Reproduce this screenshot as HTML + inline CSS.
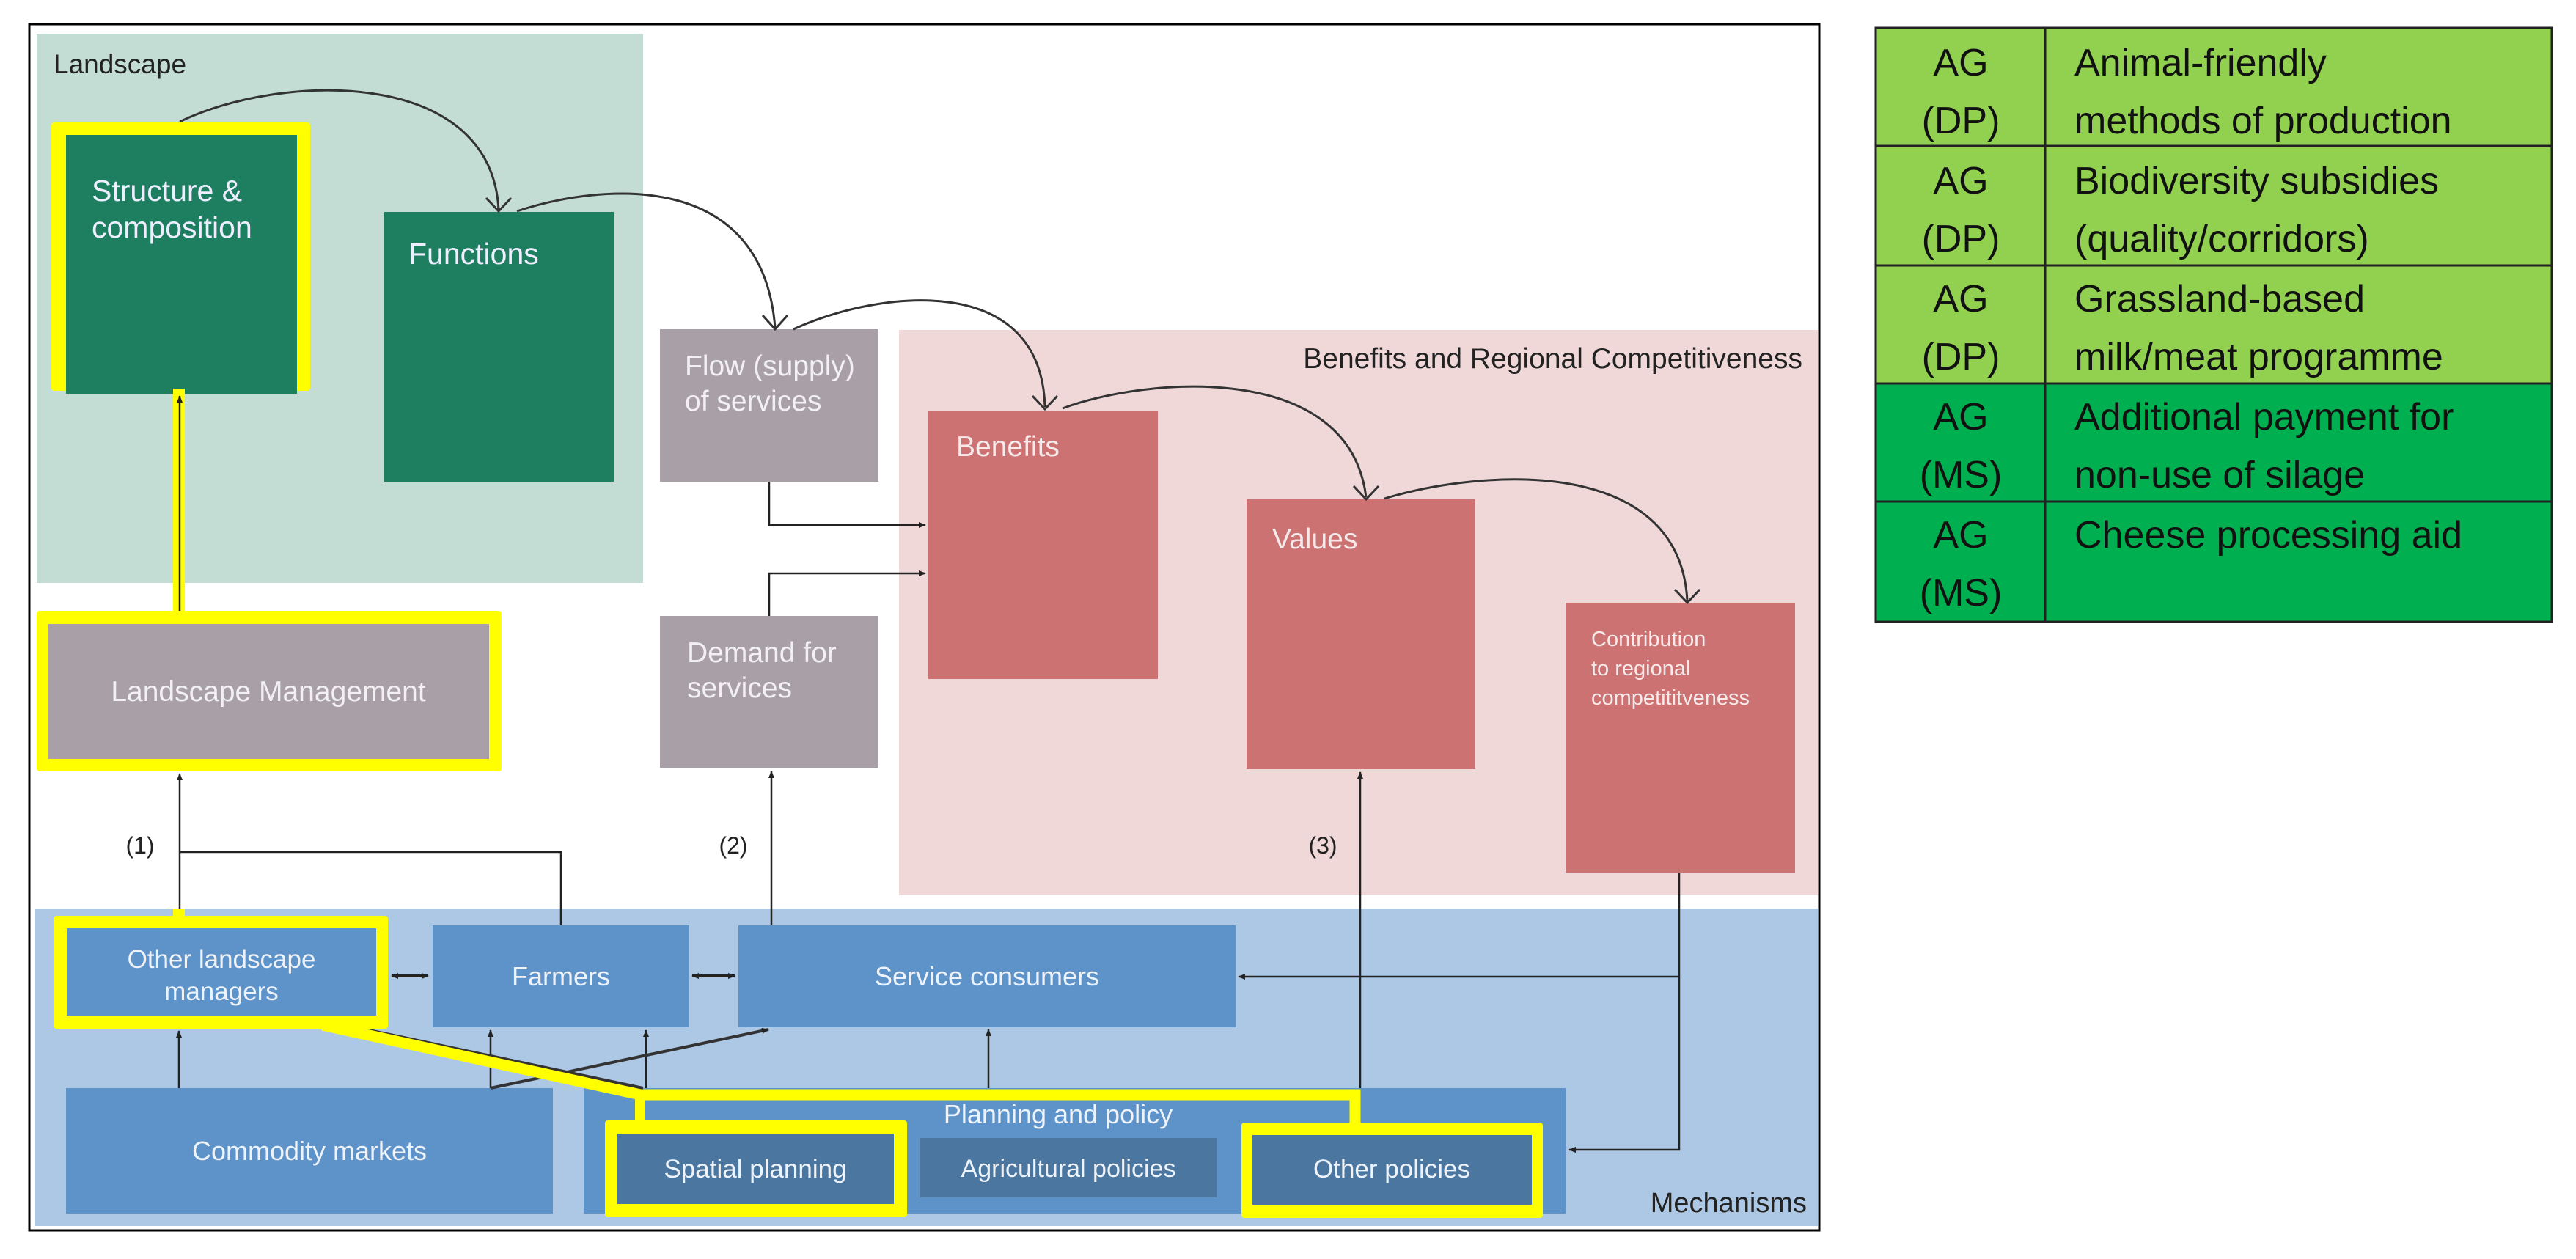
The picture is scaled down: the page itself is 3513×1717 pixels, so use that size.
<!DOCTYPE html>
<html><head><meta charset="utf-8"><style>
html,body{margin:0;padding:0;background:#fff;}
svg{display:block;}
text{font-family:"Liberation Sans",sans-serif;}
</style></head><body>
<svg width="3513" height="1717" viewBox="0 0 3513 1717" xmlns="http://www.w3.org/2000/svg">
<defs>
<marker id="a" markerWidth="10" markerHeight="10" refX="9" refY="5" orient="auto-start-reverse" markerUnits="userSpaceOnUse"><path d="M0,1 L10,5 L0,9 z" fill="#222"/></marker>
</defs>
<rect x="40" y="33" width="2441" height="1645" fill="#fff" stroke="#000" stroke-width="3"/>
<rect x="50" y="46" width="827" height="749" fill="#c3ddd4"/>
<rect x="1226" y="450" width="1253" height="770" fill="#f0d8d9"/>
<rect x="48" y="1239" width="2431" height="433" fill="#adc8e4"/>
<text x="73" y="100" font-size="37" fill="#222">Landscape</text>
<text x="2458" y="502" font-size="39" fill="#222" text-anchor="end">Benefits and Regional Competitiveness</text>
<text x="2464" y="1653" font-size="38" fill="#222" text-anchor="end">Mechanisms</text>

<rect x="70" y="167" width="353" height="366" fill="#ffff00" rx="4"/>
<rect x="90" y="184" width="315" height="353" fill="#1d7f5f"/>
<text x="125" y="274" font-size="41" fill="#eef">Structure &amp;</text>
<text x="125" y="324" font-size="41" fill="#eef">composition</text>
<rect x="524" y="289" width="313" height="368" fill="#1d7f5f"/>
<text x="557" y="360" font-size="41" fill="#eef">Functions</text>

<rect x="900" y="449" width="298" height="208" fill="#a8a0a6"/>
<text x="934" y="512" font-size="39" fill="#f2f0f2">Flow (supply)</text>
<text x="934" y="560" font-size="39" fill="#f2f0f2">of services</text>
<rect x="900" y="840" width="298" height="207" fill="#a8a0a6"/>
<text x="937" y="903" font-size="39" fill="#f2f0f2">Demand for</text>
<text x="937" y="951" font-size="39" fill="#f2f0f2">services</text>

<rect x="236" y="530" width="16" height="310" fill="#ffff00"/>
<rect x="50" y="833" width="634" height="219" fill="#ffff00" rx="4"/>
<rect x="66" y="851" width="601" height="184" fill="#a8a0a6"/>
<text x="366" y="956" font-size="39" fill="#f2f0f2" text-anchor="middle">Landscape Management</text>

<rect x="1266" y="560" width="313" height="366" fill="#cd7272"/>
<text x="1304" y="622" font-size="39" fill="#f6eaea">Benefits</text>
<rect x="1700" y="681" width="312" height="368" fill="#cd7272"/>
<text x="1735" y="748" font-size="39" fill="#f6eaea">Values</text>
<rect x="2135" y="822" width="313" height="368" fill="#cd7272"/>
<text x="2170" y="881" font-size="29" fill="#f6eaea">Contribution</text>
<text x="2170" y="921" font-size="29" fill="#f6eaea">to regional</text>
<text x="2170" y="961" font-size="29" fill="#f6eaea">competititveness</text>

<g fill="none" stroke="#333" stroke-width="3">
<path d="M245,166 C380,100 670,90 680,286"/>
<path d="M663,270 L680,288 L697,270"/>
<path d="M705,288 C820,250 1040,230 1057,447"/>
<path d="M1040,430 L1057,449 L1074,430"/>
<path d="M1082,449 C1200,395 1420,370 1425,555"/>
<path d="M1408,540 L1425,558 L1442,540"/>
<path d="M1449,557 C1560,515 1840,490 1863,678"/>
<path d="M1846,663 L1863,681 L1880,663"/>
<path d="M1888,680 C2020,640 2290,620 2301,819"/>
<path d="M2284,804 L2301,822 L2318,804"/>
</g>

<g fill="none" stroke="#222" stroke-width="2.5">
<path d="M1049,657 V716 H1262" marker-end="url(#a)"/>
<path d="M1049,840 V782 H1262" marker-end="url(#a)"/>
<path d="M245,833 V540" marker-end="url(#a)"/>
<path d="M245,1250 V1055" marker-end="url(#a)"/>
<path d="M245,1162 H765 V1263"/>
<path d="M1052,1263 V1052" marker-end="url(#a)"/>
<path d="M1855,1486 V1053" marker-end="url(#a)"/>
<path d="M2290,1190 V1568 H2140" marker-end="url(#a)"/>
<path d="M2290,1332 H1689" marker-end="url(#a)"/>
<path d="M244,1484 V1406" marker-end="url(#a)"/>
<path d="M669,1484 V1405" marker-end="url(#a)"/>
<path d="M881,1484 V1405" marker-end="url(#a)"/>
<path d="M1348,1484 V1404" marker-end="url(#a)"/>
</g>
<text x="191" y="1164" font-size="32" fill="#222" text-anchor="middle">(1)</text>
<text x="1000" y="1164" font-size="32" fill="#222" text-anchor="middle">(2)</text>
<text x="1804" y="1164" font-size="32" fill="#222" text-anchor="middle">(3)</text>

<rect x="590" y="1262" width="350" height="139" fill="#5d93c9"/>
<text x="765" y="1344" font-size="36" fill="#eef3fa" text-anchor="middle">Farmers</text>
<rect x="1007" y="1262" width="678" height="139" fill="#5d93c9"/>
<text x="1346" y="1344" font-size="36" fill="#eef3fa" text-anchor="middle">Service consumers</text>
<rect x="90" y="1484" width="664" height="171" fill="#5d93c9"/>
<text x="422" y="1582" font-size="36" fill="#eef3fa" text-anchor="middle">Commodity markets</text>
<rect x="796" y="1484" width="1339" height="171" fill="#5d93c9"/>
<text x="1443" y="1532" font-size="36" fill="#eef3fa" text-anchor="middle">Planning and policy</text>
<rect x="1254" y="1552" width="406" height="81" fill="#4a76a0"/>
<text x="1457" y="1605" font-size="34" fill="#eef3fa" text-anchor="middle">Agricultural policies</text>

<g stroke="#222" stroke-width="4">
<path d="M534,1331 H584" marker-start="url(#a)" marker-end="url(#a)"/>
<path d="M944,1331 H1002" marker-start="url(#a)" marker-end="url(#a)"/>
</g>

<g fill="none" stroke="#333" stroke-width="4">
<path d="M494,1403 L877,1484"/>
<path d="M669,1484 L1048,1404" marker-end="url(#a)"/>
</g>

<rect x="73" y="1249" width="456" height="154" fill="#ffff00" rx="4"/>
<rect x="91" y="1266" width="422" height="119" fill="#5d93c9"/>
<text x="302" y="1320" font-size="35" fill="#eef3fa" text-anchor="middle">Other landscape</text>
<text x="302" y="1364" font-size="35" fill="#eef3fa" text-anchor="middle">managers</text>
<rect x="236" y="1239" width="16" height="14" fill="#ffff00"/>
<polyline points="440,1398 873,1493 1848,1493 1848,1533" fill="none" stroke="#ffff00" stroke-width="15"/>
<line x1="873" y1="1493" x2="873" y2="1530" stroke="#ffff00" stroke-width="14"/>
<rect x="825" y="1528" width="412" height="132" fill="#ffff00" rx="4"/>
<rect x="842" y="1546" width="377" height="96" fill="#4a76a0"/>
<text x="1030" y="1606" font-size="35" fill="#eef3fa" text-anchor="middle">Spatial planning</text>
<rect x="1693" y="1531" width="411" height="130" fill="#ffff00" rx="4"/>
<rect x="1708" y="1548" width="381" height="95" fill="#4a76a0"/>
<text x="1898" y="1606" font-size="35" fill="#eef3fa" text-anchor="middle">Other policies</text>

<rect x="2558" y="38" width="922" height="485" fill="#92d050"/>
<rect x="2558" y="523" width="922" height="325" fill="#00b050"/>
<g stroke="#222" stroke-width="3" fill="none">
<rect x="2558" y="38" width="922" height="810"/>
<line x1="2789" y1="38" x2="2789" y2="848"/>
<line x1="2558" y1="199" x2="3480" y2="199"/>
<line x1="2558" y1="362" x2="3480" y2="362"/>
<line x1="2558" y1="523" x2="3480" y2="523"/>
<line x1="2558" y1="684" x2="3480" y2="684"/>
</g>
<g font-size="52" fill="#111">
<text x="2674" y="103" text-anchor="middle">AG</text><text x="2674" y="182" text-anchor="middle">(DP)</text>
<text x="2674" y="264" text-anchor="middle">AG</text><text x="2674" y="343" text-anchor="middle">(DP)</text>
<text x="2674" y="425" text-anchor="middle">AG</text><text x="2674" y="504" text-anchor="middle">(DP)</text>
<text x="2674" y="586" text-anchor="middle">AG</text><text x="2674" y="665" text-anchor="middle">(MS)</text>
<text x="2674" y="747" text-anchor="middle">AG</text><text x="2674" y="826" text-anchor="middle">(MS)</text>
<text x="2829" y="103">Animal-friendly</text><text x="2829" y="182">methods of production</text>
<text x="2829" y="264">Biodiversity subsidies</text><text x="2829" y="343">(quality/corridors)</text>
<text x="2829" y="425">Grassland-based</text><text x="2829" y="504">milk/meat programme</text>
<text x="2829" y="586">Additional payment for</text><text x="2829" y="665">non-use of silage</text>
<text x="2829" y="747">Cheese processing aid</text>
</g>
</svg>
</body></html>
